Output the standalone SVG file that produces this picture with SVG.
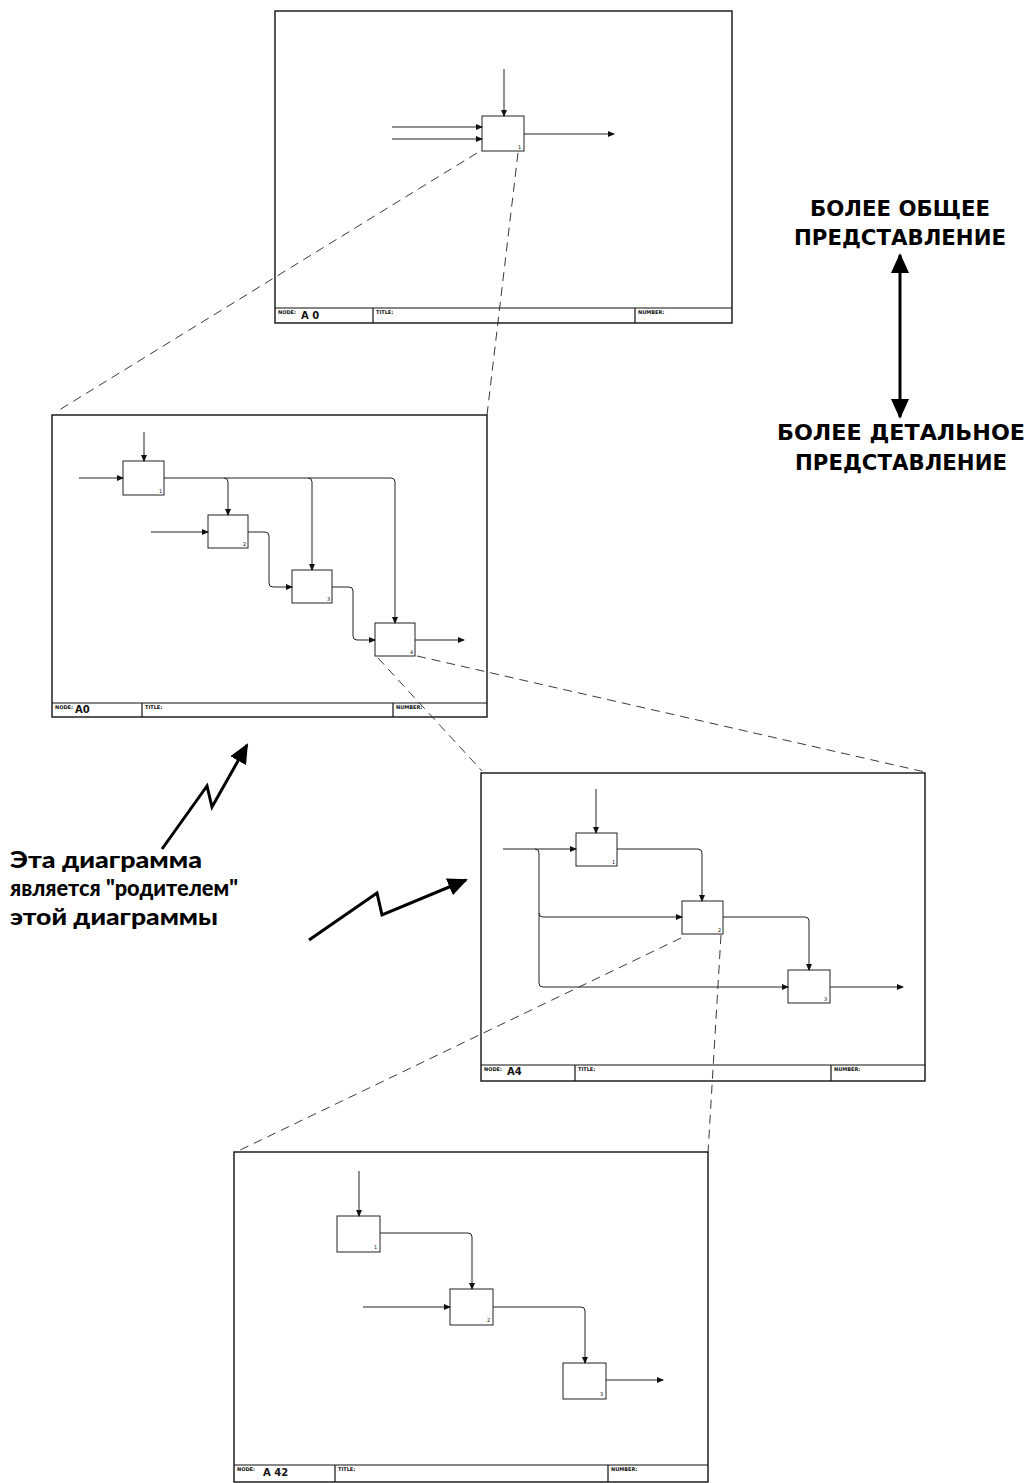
<svg xmlns="http://www.w3.org/2000/svg" width="1031" height="1483" viewBox="0 0 1031 1483">
<style>
.frame{fill:none;stroke:#111;stroke-width:1.4}
.bar{fill:none;stroke:#111;stroke-width:1.2}
.box{fill:#fff;stroke:#222;stroke-width:1}
.ar{fill:none;stroke:#222;stroke-width:1;marker-end:url(#ah)}
.dash{fill:none;stroke:#222;stroke-width:0.9;stroke-dasharray:9 6}
.lab{font-family:"DejaVu Sans",sans-serif;font-size:5px;font-weight:bold;fill:#111}
.node{font-family:"DejaVu Sans",sans-serif;font-size:10px;font-weight:bold;fill:#111}
.num{font-family:"DejaVu Sans",sans-serif;font-size:5px;fill:#111}
.big{font-family:"DejaVu Sans",sans-serif;font-size:22px;font-weight:bold;fill:#000}
.note{font-family:Lato,"DejaVu Sans",sans-serif;font-size:22px;font-weight:900;fill:#000}
.fat{fill:none;stroke:#000;stroke-width:3}
</style>
<defs>
<marker id="ah" markerUnits="userSpaceOnUse" markerWidth="7" markerHeight="6" refX="6" refY="3" orient="auto"><path d="M0,0 L7,3 L0,6 z" fill="#111"/></marker>
<marker id="bh" markerUnits="userSpaceOnUse" markerWidth="20" markerHeight="18" refX="18" refY="9" orient="auto-start-reverse"><path d="M0,0 L20,9 L0,18 z" fill="#000"/></marker>
</defs>

<g id="diagram-a0-top">
<rect class="frame" x="275" y="11" width="457" height="312"/>
<path class="bar" d="M275,308 H732 M373,308 V323 M635,308 V323"/>
<text class="lab" x="278" y="314">NODE:</text>
<text class="node" x="301" y="319">A 0</text>
<text class="lab" x="376" y="314">TITLE:</text>
<text class="lab" x="638" y="314">NUMBER:</text>
<g id="d1-box1"><rect class="box" x="482" y="116" width="42" height="35"/><text class="num" x="518" y="149">1</text></g>
</g>

<g id="diagram-a0">
<rect class="frame" x="52" y="415" width="435" height="302"/>
<path class="bar" d="M52,703 H487 M142,703 V717 M393,703 V717"/>
<text class="lab" x="55" y="709">NODE:</text>
<text class="node" x="75" y="713">A0</text>
<text class="lab" x="145" y="709">TITLE:</text>
<text class="lab" x="396" y="709">NUMBER:</text>
<g id="d2-box1"><rect class="box" x="123" y="461" width="41" height="34"/><text class="num" x="159" y="493">1</text></g>
<g id="d2-box2"><rect class="box" x="208" y="515" width="40" height="33"/><text class="num" x="243" y="546">2</text></g>
<g id="d2-box3"><rect class="box" x="292" y="570" width="40" height="33"/><text class="num" x="327" y="601">3</text></g>
<g id="d2-box4"><rect class="box" x="375" y="623" width="40" height="33"/><text class="num" x="410" y="654">4</text></g>
</g>

<g id="diagram-a4">
<rect class="frame" x="481" y="773" width="444" height="308"/>
<path class="bar" d="M481,1065 H925 M575,1065 V1081 M831,1065 V1081"/>
<text class="lab" x="484" y="1071">NODE:</text>
<text class="node" x="507" y="1075">A4</text>
<text class="lab" x="578" y="1071">TITLE:</text>
<text class="lab" x="834" y="1071">NUMBER:</text>
<g id="d3-box1"><rect class="box" x="576" y="833" width="41" height="33"/><text class="num" x="612" y="864">1</text></g>
<g id="d3-box2"><rect class="box" x="682" y="901" width="41" height="33"/><text class="num" x="718" y="932">2</text></g>
<g id="d3-box3"><rect class="box" x="788" y="970" width="42" height="33"/><text class="num" x="824" y="1001">3</text></g>
</g>

<g id="diagram-a42">
<rect class="frame" x="234" y="1152" width="474" height="330"/>
<path class="bar" d="M234,1465 H708 M335,1465 V1482 M608,1465 V1482"/>
<text class="lab" x="237" y="1471">NODE:</text>
<text class="node" x="263" y="1476">A 42</text>
<text class="lab" x="338" y="1471">TITLE:</text>
<text class="lab" x="611" y="1471">NUMBER:</text>
<g id="d4-box1"><rect class="box" x="337" y="1216" width="43" height="36"/><text class="num" x="374" y="1249">1</text></g>
<g id="d4-box2"><rect class="box" x="450" y="1289" width="43" height="36"/><text class="num" x="487" y="1322">2</text></g>
<g id="d4-box3"><rect class="box" x="563" y="1363" width="43" height="36"/><text class="num" x="600" y="1396">3</text></g>
</g>

<g id="connectors">
<path class="ar" d="M504,69 V116"/>
<path class="ar" d="M392,127 H482"/>
<path class="ar" d="M392,139 H482"/>
<path class="ar" d="M524,134 H614"/>

<path class="ar" d="M144,432 V461"/>
<path class="ar" d="M79,478 H123"/>
<path class="ar" d="M164,478 H391 Q395,478 395,482 V623"/>
<path class="ar" d="M224,478 Q228,478 228,482 V515"/>
<path class="ar" d="M308,478 Q312,478 312,482 V570"/>
<path class="ar" d="M151,532 H208"/>
<path class="ar" d="M248,532 H265 Q269,532 269,536 V583 Q269,587 273,587 H292"/>
<path class="ar" d="M332,587 H349 Q353,587 353,591 V636 Q353,640 357,640 H375"/>
<path class="ar" d="M415,640 H464"/>

<path class="ar" d="M596,789 V833"/>
<path class="ar" d="M503,849 H576"/>
<path class="ar" d="M535,849 Q539,849 539,853 V913 Q539,917 543,917 H682"/>
<path class="ar" d="M539,913 V983 Q539,987 543,987 H788"/>
<path class="ar" d="M617,849 H698 Q702,849 702,853 V901"/>
<path class="ar" d="M723,917 H805 Q809,917 809,921 V970"/>
<path class="ar" d="M830,987 H903"/>

<path class="ar" d="M359,1171 V1216"/>
<path class="ar" d="M380,1233 H468 Q472,1233 472,1237 V1289"/>
<path class="ar" d="M363,1307 H450"/>
<path class="ar" d="M493,1307 H581 Q585,1307 585,1311 V1363"/>
<path class="ar" d="M606,1380 H663"/>

<path class="dash" d="M477,153 L56,412"/>
<path class="dash" d="M518,153 L487,415"/>
<path class="dash" d="M378,658 L482,771"/>
<path class="dash" d="M417,656 L925,772"/>
<path class="dash" d="M681,938 L236,1152"/>
<path class="dash" d="M721,935 L708,1153"/>

<path class="fat" d="M900,255 V417" marker-start="url(#bh)" marker-end="url(#bh)"/>
<path class="fat" d="M162,849 L207,786 L212,807 L247,745" marker-end="url(#bh)"/>
<path class="fat" d="M309,940 L377,893 L382,915 L466,880" marker-end="url(#bh)"/>
</g>

<g id="labels">
<text class="big" x="900" y="216" text-anchor="middle" textLength="180" lengthAdjust="spacingAndGlyphs">БОЛЕЕ ОБЩЕЕ</text>
<text class="big" x="900" y="245" text-anchor="middle" textLength="212" lengthAdjust="spacingAndGlyphs">ПРЕДСТАВЛЕНИЕ</text>
<text class="big" x="901" y="440" text-anchor="middle" textLength="248" lengthAdjust="spacingAndGlyphs">БОЛЕЕ ДЕТАЛЬНОЕ</text>
<text class="big" x="901" y="470" text-anchor="middle" textLength="212" lengthAdjust="spacingAndGlyphs">ПРЕДСТАВЛЕНИЕ</text>
<text class="note" x="10" y="868" textLength="192" lengthAdjust="spacingAndGlyphs">Эта диаграмма</text>
<text class="note" x="10" y="896" textLength="228" lengthAdjust="spacingAndGlyphs">является "родителем"</text>
<text class="note" x="10" y="925" textLength="208" lengthAdjust="spacingAndGlyphs">этой диаграммы</text>
</g>
</svg>
